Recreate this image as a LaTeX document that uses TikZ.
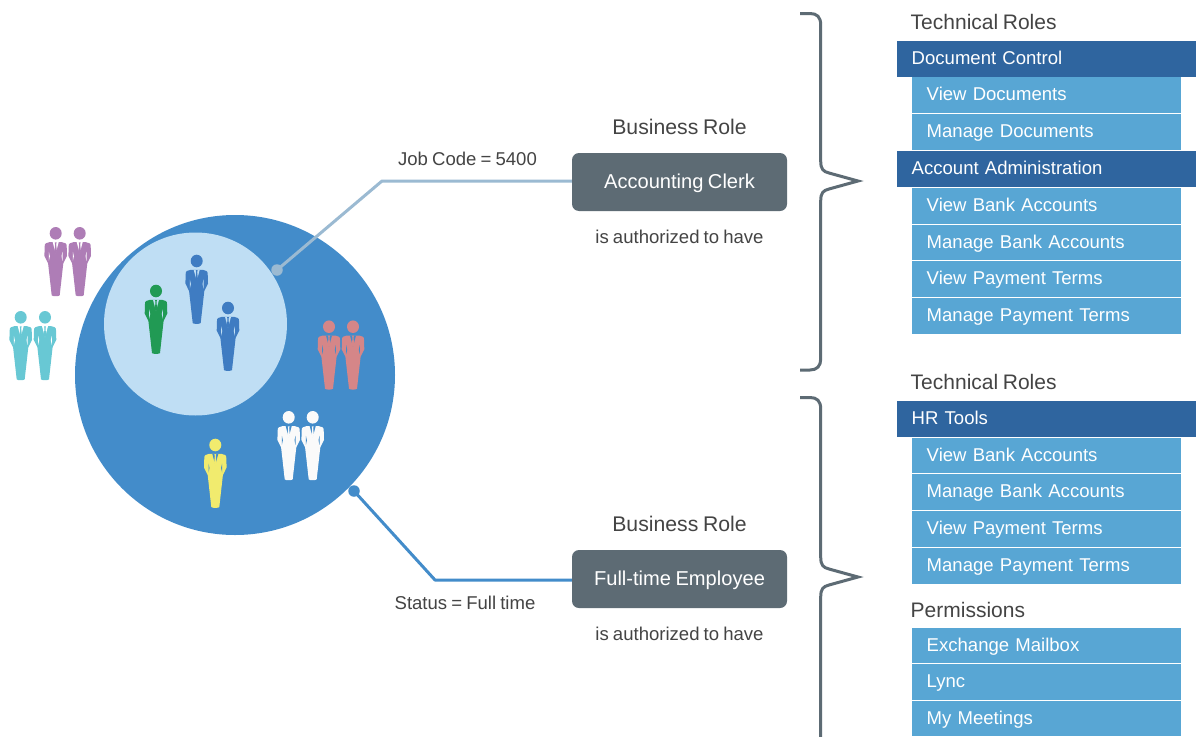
\documentclass[tikz,border=0pt]{standalone}
\usepackage{fontspec}
\setmainfont[WordSpace=0.8]{Liberation Sans}
\definecolor{bigblue}{HTML}{438CCA}
\definecolor{innerblue}{HTML}{BFDEF4}
\definecolor{headbar}{HTML}{2F659F}
\definecolor{itembar}{HTML}{58A6D4}
\definecolor{slate}{HTML}{5D6B74}
\definecolor{paleline}{HTML}{9BBAD2}
\definecolor{txt}{HTML}{444444}
\definecolor{ppurple}{HTML}{AE7DB6}
\definecolor{pcyan}{HTML}{68C8D4}
\definecolor{pgreen}{HTML}{219A54}
\definecolor{pblue}{HTML}{3F7CC2}
\definecolor{ppink}{HTML}{D58688}
\definecolor{pyellow}{HTML}{F1EB6E}
\definecolor{pwhite}{HTML}{FAFAFA}
\tikzset{
  headrow/.style={fill=headbar,text=white,anchor=west,align=left,inner ysep=0pt,inner xsep=14.5pt,text width=270pt,minimum height=36pt,font=\fontsize{18.55}{22}\selectfont,text height=14pt,text depth=3pt},
  itemrow/.style={fill=itembar,text=white,anchor=west,align=left,inner ysep=0pt,inner xsep=14.5pt,text width=240pt,minimum height=35.7pt,font=\fontsize{18.55}{22}\selectfont,text height=14.5pt,text depth=3pt},
  grouptitle/.style={anchor=west,text=txt,inner sep=0pt,font=\fontsize{21}{24}\selectfont},
  rolebox/.style={fill=slate,text=white,rounded corners=7pt,minimum width=215pt,minimum height=58pt,inner sep=0pt,font=\fontsize{20.1}{24}\selectfont,text height=15.5pt,text depth=3.5pt},
  roletitle/.style={text=txt,inner sep=0pt,font=\fontsize{21.2}{24}\selectfont},
  smalltext/.style={text=txt,inner sep=0pt,font=\fontsize{18.55}{22}\selectfont},
  brace/.style={draw=slate,line width=3pt,line join=miter,miter limit=12},
  dot/.style={circle,inner sep=0pt,minimum size=11.5pt},
  person/.pic={
    \fill[pic actions] (0,0) ellipse (6pt and 6.3pt);
    \fill[pic actions] (-6,8.8) -- (-9.8,10) .. controls (-10.8,10.5) and (-10.9,11.5) .. (-11,13) -- (-11.3,22.5) -- (-7.6,30) -- (-4,62) .. controls (-3.8,63.2) and (3.8,63.2) .. (4,62) -- (7.6,30) -- (11.3,22.5) -- (11,13) .. controls (10.9,11.5) and (10.8,10.5) .. (9.8,10) -- (6,8.8) -- cycle;
  },
}
\newcommand{\suitdetail}[2]{%
  \begin{scope}[shift={(#1)}]
    \fill[#2] (-3,8.8) -- (3,8.8) -- (0,20) -- cycle;
    \fill[#2] (-6.8,18.5) -- (-6.8,27.5) -- (-5.8,23) -- cycle;
    \fill[#2] (6.8,18.5) -- (6.8,27.5) -- (5.8,23) -- cycle;
  \end{scope}}
\newcommand{\suittie}[2]{%
  \begin{scope}[shift={(#1)}]
    \fill[#2] (-0.9,9) -- (0.9,9) -- (0.5,11.5) -- (1.2,18) -- (0,21) -- (-1.2,18) -- (-0.5,11.5) -- cycle;
  \end{scope}}
\newcommand{\suitfigure}[3]{% position, suit colour, surrounding colour
  \pic[fill=#2] at (#1) {person};
  \suitdetail{#1}{#3}
  \suittie{#1}{#2}}
\begin{document}
\begin{tikzpicture}[x=1pt,y=-1pt]
\clip (0,0) rectangle (1196,736);
\fill[white] (0,0) rectangle (1196,736);

% circles
\node[circle,fill=bigblue,minimum size=320pt,inner sep=0pt] (outer) at (235,375) {};
\node[circle,fill=innerblue,minimum size=183pt,inner sep=0pt] (inner) at (195.5,324) {};

% people
\suitfigure{55.7,233.3}{ppurple}{white}
\suitfigure{79.7,233.3}{ppurple}{white}
\suitfigure{20.7,317.3}{pcyan}{white}
\suitfigure{45,317.3}{pcyan}{white}
\suitfigure{156,291}{pgreen}{innerblue}
\suitfigure{196.7,261}{pblue}{innerblue}
\suitfigure{228,308}{pblue}{innerblue}
\suitfigure{329,326.7}{ppink}{bigblue}
\suitfigure{353,326.7}{ppink}{bigblue}
\suitfigure{288.7,417.3}{pwhite}{bigblue}
\suitfigure{312.7,417.3}{pwhite}{bigblue}
\suitfigure{215.3,445}{pyellow}{bigblue}

% business roles
\node[rolebox] (clerk) at (679.5,182) {Accounting Clerk};
\node[rolebox] (employee) at (679.5,579) {Full-time Employee};
\node[roletitle] (brole1) at (679.5,127) {Business Role};
\node[roletitle] (brole2) at (679.5,524) {Business Role};
\node[smalltext] (auth1) at (679.5,237) {is authorized to have};
\node[smalltext] (auth2) at (679.5,634) {is authorized to have};

% connectors
\coordinate (bend1) at (382,181);
\coordinate (bend2) at (435,580);
\node[dot,fill=paleline] (dot1) at (277,270) {};
\node[dot,fill=bigblue] (dot2) at (354,491) {};
\draw[paleline,line width=3pt,line join=round] (dot1.center) -- (bend1) -- (bend1 -| clerk.west);
\draw[bigblue,line width=3pt,line join=round] (dot2.center) -- (bend2) -- (bend2 -| employee.west);
\node[smalltext] (job) at (467.5,159) {Job Code = 5400};
\node[smalltext] (status) at (465,603) {Status = Full time};

% braces
\draw[brace] (800,13.5) -- (810,13.5) .. controls (817,13.5) and (820.7,17) .. (820.7,25) -- (820.7,161)
  .. controls (820.7,169) and (823,171.5) .. (829,173) -- (858,181) -- (829,189)
  .. controls (823,190.5) and (820.7,193) .. (820.7,201) -- (820.7,359)
  .. controls (820.7,366) and (817,370) .. (810,370) -- (800,370);
\draw[brace] (800,397.5) -- (810,397.5) .. controls (817,397.5) and (820.7,401) .. (820.7,409) -- (820.7,557)
  .. controls (820.7,565) and (823,567.5) .. (829,569) -- (858,577) -- (829,585)
  .. controls (823,586.5) and (820.7,589) .. (820.7,597) -- (820.7,750)
  .. controls (820.7,757) and (817,761) .. (810,761) -- (800,761);

% right-hand lists
\node[grouptitle] (tr1) at (910.5,22) {Technical Roles};
\node[headrow] (doc) at (897,59) {Document Control};
\node[itemrow] (viewdoc) at (912,95.2) {View Documents};
\node[itemrow] (mandoc) at (912,132) {Manage Documents};
\node[headrow] (acct) at (897,169) {Account Administration};
\node[itemrow] (viewbank) at (912,205.7) {View Bank Accounts};
\node[itemrow] (manbank) at (912,242.4) {Manage Bank Accounts};
\node[itemrow] (viewpay) at (912,279) {View Payment Terms};
\node[itemrow] (manpay) at (912,315.7) {Manage Payment Terms};

\node[grouptitle] (tr2) at (910.5,382) {Technical Roles};
\node[headrow] (hr) at (897,419) {HR Tools};
\node[itemrow] (viewbankb) at (912,455.5) {View Bank Accounts};
\node[itemrow] (manbankb) at (912,492) {Manage Bank Accounts};
\node[itemrow] (viewpayb) at (912,529) {View Payment Terms};
\node[itemrow] (manpayb) at (912,565.7) {Manage Payment Terms};
\node[grouptitle] (perm) at (910.5,610) {Permissions};
\node[itemrow] (mail) at (912,645.5) {Exchange Mailbox};
\node[itemrow] (lync) at (912,682) {Lync};
\node[itemrow] (meet) at (912,718.5) {My Meetings};
\end{tikzpicture}
\end{document}
